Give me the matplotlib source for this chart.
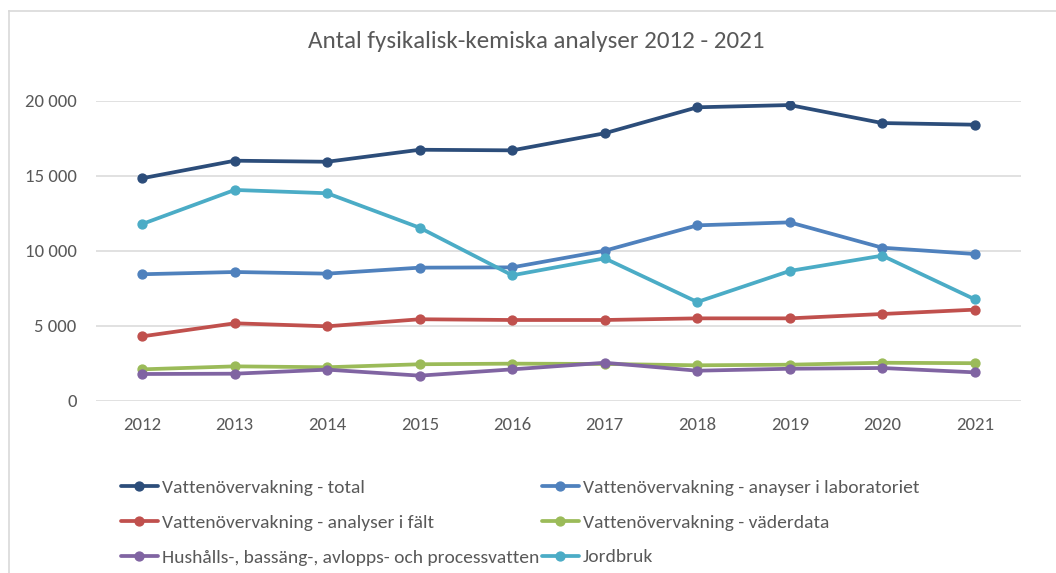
import matplotlib
matplotlib.use("Agg")
import matplotlib.pyplot as plt
from matplotlib.lines import Line2D
from matplotlib.ticker import FuncFormatter, MultipleLocator
from matplotlib import font_manager

years = ["2012", "2013", "2014", "2015", "2016", "2017", "2018", "2019", "2020", "2021"]

total = [14830, 16000, 15930, 16730, 16690, 17830, 19560, 19710, 18510, 18400]
laboratoriet = [8430, 8580, 8470, 8870, 8890, 10000, 11690, 11890, 10200, 9780]
falt = [4290, 5160, 4960, 5430, 5380, 5380, 5490, 5490, 5780, 6070]
vaderdata = [2090, 2290, 2230, 2430, 2470, 2450, 2360, 2400, 2530, 2500]
hushall = [1780, 1800, 2070, 1670, 2090, 2530, 2000, 2130, 2180, 1890]
jordbruk = [11780, 14050, 13830, 11530, 8360, 9490, 6580, 8650, 9670, 6760]

labels = [
    "Vattenövervakning - total",
    "Vattenövervakning - anayser i laboratoriet",
    "Vattenövervakning - analyser i fält",
    "Vattenövervakning - väderdata",
    "Hushålls-, bassäng-, avlopps- och processvatten",
    "Jordbruk",
]
series = [total, laboratoriet, falt, vaderdata, hushall, jordbruk]
colors = ["#2C4D7A", "#4F81BD", "#C0504D", "#9BBB59", "#8064A2", "#4BACC6"]

installed = {f.name for f in font_manager.fontManager.ttflist}
if "Carlito" in installed:
    fam = ["Carlito", "DejaVu Sans"]
    fs_title, fs_tick, fs_leg = 18, 13.5, 14
elif "Liberation Sans Narrow" in installed:
    fam = ["Liberation Sans Narrow", "DejaVu Sans"]
    fs_title, fs_tick, fs_leg = 18, 13.5, 13.5
else:
    fam = ["Lato", "DejaVu Sans"]
    fs_title, fs_tick, fs_leg = 16, 12, 12
plt.rcParams["font.family"] = fam

W, H = 1056, 573
fig = plt.figure(figsize=(W / 100, H / 100), dpi=100)
ax = fig.add_axes([96 / W, 1 - 400.7 / H, (1021 - 96) / W, 300 / H])

text_col = "#595959"
grid_col = "#D9D9D9"

x = list(range(len(years)))
handles = []
for vals, lab, col in zip(series, labels, colors):
    (h,) = ax.plot(x, vals, color=col, lw=2.7, marker="o", ms=6.4,
                   solid_capstyle="round", label=lab)
    handles.append(h)

ax.set_xlim(-0.5, len(years) - 0.5)
ax.set_ylim(0, 20000)
ax.set_xticks(x)
ax.set_xticklabels(years)
ax.yaxis.set_major_locator(MultipleLocator(5000))
ax.yaxis.set_major_formatter(FuncFormatter(lambda v, p: f"{v:,.0f}".replace(",", " ")))
ax.grid(axis="y", color=grid_col, lw=1.1)
ax.set_axisbelow(True)
for s in ax.spines.values():
    s.set_visible(False)
ax.tick_params(axis="both", length=0, colors=text_col, labelsize=fs_tick)
ax.tick_params(axis="x", pad=12)
ax.tick_params(axis="y", pad=14)

fig.text(536 / W, 1 - 42 / H, "Antal fysikalisk-kemiska analyser 2012 - 2021",
         ha="center", va="center", fontsize=fs_title, color=text_col)

leg_kw = dict(loc="upper left", frameon=False, fontsize=fs_leg, labelcolor=text_col,
              handlelength=1.9, handletextpad=0.22, labelspacing=0.93,
              borderpad=0, borderaxespad=0, bbox_transform=fig.transFigure)
fig.legend([handles[0], handles[2], handles[4]], [labels[0], labels[2], labels[4]],
           bbox_to_anchor=(120.7 / W, 1 - 479.5 / H), **leg_kw)
fig.legend([handles[1], handles[3], handles[5]], [labels[1], labels[3], labels[5]],
           bbox_to_anchor=(541.7 / W, 1 - 479.5 / H), **leg_kw)

# chart-area border (top and left edges visible)
fig.add_artist(Line2D([9 / W, 1.0], [1 - 11 / H, 1 - 11 / H], color=grid_col, lw=1.2,
                      transform=fig.transFigure))
fig.add_artist(Line2D([9 / W, 9 / W], [0, 1 - 11 / H], color=grid_col, lw=1.2,
                      transform=fig.transFigure))

fig.savefig("out.png", dpi=100)
